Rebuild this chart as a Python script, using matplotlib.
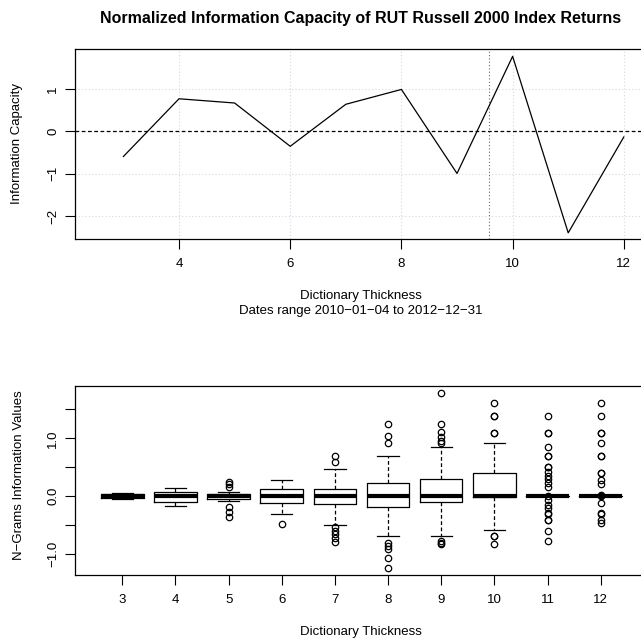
import matplotlib
matplotlib.use("Agg")
import matplotlib.pyplot as plt
import numpy as np

plt.rcParams['font.family'] = ['Liberation Sans', 'DejaVu Sans']

# ---- data: top panel ----
thickness = [3, 4, 5, 6, 7, 8, 9, 10, 11, 12]
info_capacity = [-0.59, 0.77, 0.67, -0.35, 0.64, 0.99, -0.99, 1.77, -2.39, -0.13]
vline_x = 9.57
top_xticks = [4, 6, 8, 10, 12]
top_yticks = [-2, -1, 0, 1]

# ---- data: bottom panel (box statistics) ----
box_med = [0.0, 0.0, 0.0, 0.0, 0.0, 0.0, 0.0, 0.0, 0.0, 0.0]
box_q1 = [-0.03, -0.104, -0.057, -0.127, -0.144, -0.185, -0.11, -0.012, 0.0, 0.0]
box_q3 = [0.03, 0.075, 0.04, 0.116, 0.121, 0.22, 0.289, 0.404, 0.0, 0.0]
box_wlo = [-0.057, -0.168, -0.081, -0.306, -0.497, -0.693, -0.693, -0.589, 0.0, 0.0]
box_whi = [0.047, 0.133, 0.064, 0.283, 0.468, 0.688, 0.844, 0.913, 0.0, 0.0]
box_fliers = [
    [],
    [],
    [0.25, 0.205, 0.162, -0.196, -0.27, -0.36],
    [-0.485],
    [0.693, 0.584, -0.54, -0.6, -0.66, -0.73, -0.80],
    [1.253, 1.034, 0.913, -0.81, -0.86, -0.92, -1.08, -1.25],
    [1.785, 1.253, 1.104, 1.028, 0.953, 0.913, -0.78, -0.81, -0.826],
    [1.607, 1.381, 1.381, 1.098, 1.10, -0.693, -0.70, -0.827],
    [1.381, 1.097, 1.10, 0.844, 0.693, 0.69, 0.509, 0.505, 0.41, 0.353, 0.289,
     0.22, 0.162, 0.0, -0.064, -0.15, -0.208, -0.3, -0.305, -0.416, -0.42,
     -0.601, -0.774],
    [1.607, 1.381, 1.097, 1.10, 0.913, 0.693, 0.69, 0.404, 0.40, 0.277, 0.208,
     0.0, 0.01, -0.127, -0.3, -0.305, -0.416, -0.474],
]
bottom_yticks = [-1.0, -0.5, 0.0, 0.5, 1.0, 1.5]
bottom_ylabels = ['\u22121.0', '', '0.0', '', '1.0', '']

W = H = 641
fig = plt.figure(figsize=(W / 100, H / 100), dpi=100)

def frac_x(px):
    return px / W

def frac_y(py):
    return 1 - py / H

left_px, right_px = 74.5, 648.0

# ---------------- top panel ----------------
ax1 = fig.add_axes([frac_x(left_px), frac_y(239), frac_x(right_px - left_px), (239 - 49.3) / H])
ax1.set_xlim(2.12, 12.435)
ax1.set_ylim(-2.535, 1.936)
for xv in top_xticks:
    ax1.axvline(xv, color='#d0d9e8', lw=0.8, ls=(0, (1, 2)), zorder=0)
for yv in [-2, -1, 1]:
    ax1.axhline(yv, color='#d0d9e8', lw=0.8, ls=(0, (1, 2)), zorder=0)
ax1.axhline(0, color='black', lw=0.9, ls=(0, (3, 2)), zorder=1)
ax1.axvline(vline_x, color='#666666', lw=0.8, ls=(0, (1, 2)), zorder=1)
ax1.plot(thickness, info_capacity, color='black', lw=0.9, zorder=2)
ax1.set_xticks(top_xticks)
ax1.set_xticklabels([str(v) for v in top_xticks])
ax1.set_yticks(top_yticks)
ax1.set_yticklabels(['\u22122', '\u22121', '0', '1'], rotation=90, va='center')

# ---------------- bottom panel ----------------
ax2 = fig.add_axes([frac_x(left_px), frac_y(575), frac_x(right_px - left_px), (575 - 385.5) / H])
stats = []
for i in range(len(thickness)):
    stats.append(dict(med=box_med[i], q1=box_q1[i], q3=box_q3[i],
                      whislo=box_wlo[i], whishi=box_whi[i], fliers=box_fliers[i]))
ax2.bxp(stats, positions=thickness, widths=0.8, showfliers=True,
        boxprops=dict(color='black', lw=0.9),
        medianprops=dict(color='black', lw=3.0, solid_capstyle='butt'),
        whiskerprops=dict(color='black', lw=0.9, ls=(0, (3, 2))),
        capprops=dict(color='black', lw=0.9),
        flierprops=dict(marker='o', markersize=4.6, markerfacecolor='none',
                        markeredgecolor='black', markeredgewidth=0.9),
        capwidths=0.4)
ax2.set_xlim(2.101, 12.89)
ax2.set_ylim(-1.369, 1.915)
ax2.set_xticks(thickness)
ax2.set_xticklabels([str(v) for v in thickness])
ax2.set_yticks(bottom_yticks)
ax2.set_yticklabels(bottom_ylabels, rotation=90, va='center')

fs_tick = 9.5
for ax in (ax1, ax2):
    for s in ax.spines.values():
        s.set_color('black')
        s.set_linewidth(0.9)
    ax.tick_params(axis='both', direction='out', length=7, width=0.8,
                   colors='black', labelsize=fs_tick)
    ax.tick_params(axis='x', pad=7)
    ax.tick_params(axis='y', pad=4)
    for lab in ax.get_yticklabels():
        lab.set_rotation(90)
        lab.set_va('center')

# ---------------- texts ----------------
fs_lab = 9.5
fig.text(frac_x(361), frac_y(18), 'Normalized Information Capacity of RUT Russell 2000 Index Returns',
         ha='center', va='center', fontsize=11.5, fontweight='bold')
fig.text(frac_x(361), frac_y(296), 'Dictionary Thickness', ha='center', va='center', fontsize=fs_lab)
fig.text(frac_x(361), frac_y(311), 'Dates range 2010\u221201\u221204 to 2012\u221212\u221231',
         ha='center', va='center', fontsize=fs_lab)
fig.text(frac_x(17), frac_y(144), 'Information Capacity', ha='center', va='center',
         rotation=90, fontsize=fs_lab)
fig.text(frac_x(361), frac_y(632), 'Dictionary Thickness', ha='center', va='center', fontsize=fs_lab)
fig.text(frac_x(19), frac_y(475), 'N\u2212Grams Information Values', ha='center', va='center',
         rotation=90, fontsize=fs_lab)

fig.savefig('out.png', dpi=100)
